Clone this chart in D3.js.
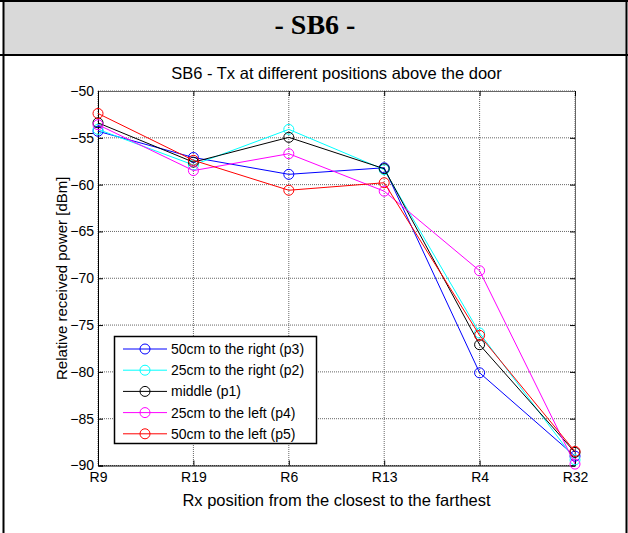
<!DOCTYPE html>
<html><head><meta charset="utf-8">
<script src="https://cdn.jsdelivr.net/npm/d3@7"></script>
<style>body{margin:0;background:#fff}svg{display:block}</style>
</head><body>
<svg id="c" width="628" height="533"></svg>
<script>
const categories = ["R9","R19","R6","R13","R4","R32"];
const seriesNames = ["50cm to the right (p3)","25cm to the right (p2)","middle (p1)","25cm to the left (p4)","50cm to the left (p5)"];
const seriesColors = ["#0000ff","#00ffff","#000000","#ff00ff","#ff0000"];
const p3 = [-54.3,-57.1,-58.9,-58.2,-80.1,-89.0];
const p2 = [-54.1,-57.9,-54.1,-58.4,-75.85,-89.4];
const p1 = [-53.4,-57.6,-54.95,-58.3,-77.1,-88.6];
const p4 = [-53.6,-58.5,-56.7,-60.7,-69.2,-89.85];
const p5 = [-52.4,-57.4,-60.6,-59.8,-76.1,-88.5];
const seriesValues = [p3,p2,p1,p4,p5];
const yTicks = [-90,-85,-80,-75,-70,-65,-60,-55,-50];
const header = "- SB6 -";
const title = "SB6 - Tx at different positions above the door";
const xLabel = "Rx position from the closest to the farthest";
const yLabel = "Relative received power [dBm]";

const svg = d3.select("#c");
const font = "'Liberation Sans', Arial, sans-serif";

// table frame
svg.append("rect").attr("x",3).attr("y",2).attr("width",623).attr("height",52).attr("fill","#d9d9d9");
svg.append("line").attr("x1",0).attr("x2",628).attr("y1",1).attr("y2",1).attr("stroke","#000").attr("stroke-width",2);
svg.append("line").attr("x1",0).attr("x2",628).attr("y1",55).attr("y2",55).attr("stroke","#000").attr("stroke-width",2);
svg.append("line").attr("x1",3.5).attr("x2",3.5).attr("y1",0).attr("y2",533).attr("stroke","#000").attr("stroke-width",2);
svg.append("line").attr("x1",626.5).attr("x2",626.5).attr("y1",0).attr("y2",533).attr("stroke","#000").attr("stroke-width",2);
svg.append("text").attr("x",315).attr("y",34).attr("text-anchor","middle")
  .attr("font-family","'Liberation Serif','Times New Roman',serif").attr("font-weight","bold").attr("font-size",28)
  .text(header);

const L=98, R=575, T=91, B=465.5;
const x = d3.scalePoint().domain(categories).range([L,R]);
const y = d3.scaleLinear().domain([-90,-50]).range([B,T]);

// grid
const grid = svg.append("g").attr("stroke","#666").attr("stroke-width",1).attr("stroke-dasharray","1,1");
yTicks.forEach(t=>grid.append("line").attr("x1",L).attr("x2",R).attr("y1",y(t)).attr("y2",y(t)));
categories.forEach(c=>grid.append("line").attr("x1",x(c)).attr("x2",x(c)).attr("y1",T).attr("y2",B));

// axes
const ax = svg.append("g").attr("transform",`translate(${L},0)`)
  .call(d3.axisLeft(y).tickValues(yTicks).tickSize(-5).tickPadding(4).tickFormat(d3.format("d")));
const axR = svg.append("g").attr("transform",`translate(${R},0)`)
  .call(d3.axisRight(y).tickValues(yTicks).tickSize(-5).tickFormat(""));
const bx = svg.append("g").attr("transform",`translate(0,${B})`)
  .call(d3.axisBottom(x).tickSize(-5).tickPadding(7));
const tx = svg.append("g").attr("transform",`translate(0,${T})`)
  .call(d3.axisTop(x).tickSize(-5).tickFormat(""));
[ax,axR,bx,tx].forEach(g=>{
  g.selectAll("text").attr("font-family",font).attr("font-size",14).attr("fill","#000");
  g.selectAll(".tick line").attr("stroke","#000");
});
ax.select(".domain").attr("stroke","#000");
bx.select(".domain").attr("stroke","#000");
axR.select(".domain").attr("stroke","#666");
tx.select(".domain").attr("stroke","#666");

// series
const line = d3.line().x((d,i)=>x(categories[i])).y(d=>y(d));
seriesValues.forEach((vals,si)=>{
  const g = svg.append("g");
  g.append("path").attr("d",line(vals)).attr("fill","none").attr("stroke",seriesColors[si]).attr("stroke-width",1);
  g.selectAll("circle").data(vals).join("circle")
    .attr("cx",(d,i)=>x(categories[i])).attr("cy",d=>y(d)).attr("r",5)
    .attr("fill","none").attr("stroke",seriesColors[si]).attr("stroke-width",1);
});

// texts
svg.append("text").attr("x",(L+R)/2).attr("y",79).attr("text-anchor","middle")
  .attr("font-family",font).attr("font-size",16.5).text(title);
svg.append("text").attr("x",(L+R)/2).attr("y",506).attr("text-anchor","middle")
  .attr("font-family",font).attr("font-size",16.5).text(xLabel);
svg.append("text").attr("transform",`translate(67,${(T+B)/2}) rotate(-90)`).attr("text-anchor","middle")
  .attr("font-family",font).attr("font-size",15).text(yLabel);

// legend
const lg = svg.append("g");
lg.append("rect").attr("x",114.5).attr("y",336.5).attr("width",202).attr("height",107)
  .attr("fill","#fff").attr("stroke","#000").attr("stroke-width",1.5);
seriesNames.forEach((n,i)=>{
  const yy = 349 + i*21.2;
  lg.append("line").attr("x1",123).attr("x2",167).attr("y1",yy).attr("y2",yy).attr("stroke",seriesColors[i]);
  lg.append("circle").attr("cx",145).attr("cy",yy).attr("r",5).attr("fill","none").attr("stroke",seriesColors[i]);
  lg.append("text").attr("x",171).attr("y",yy+5).attr("font-family",font).attr("font-size",14).text(n);
});
</script>
</body></html>
